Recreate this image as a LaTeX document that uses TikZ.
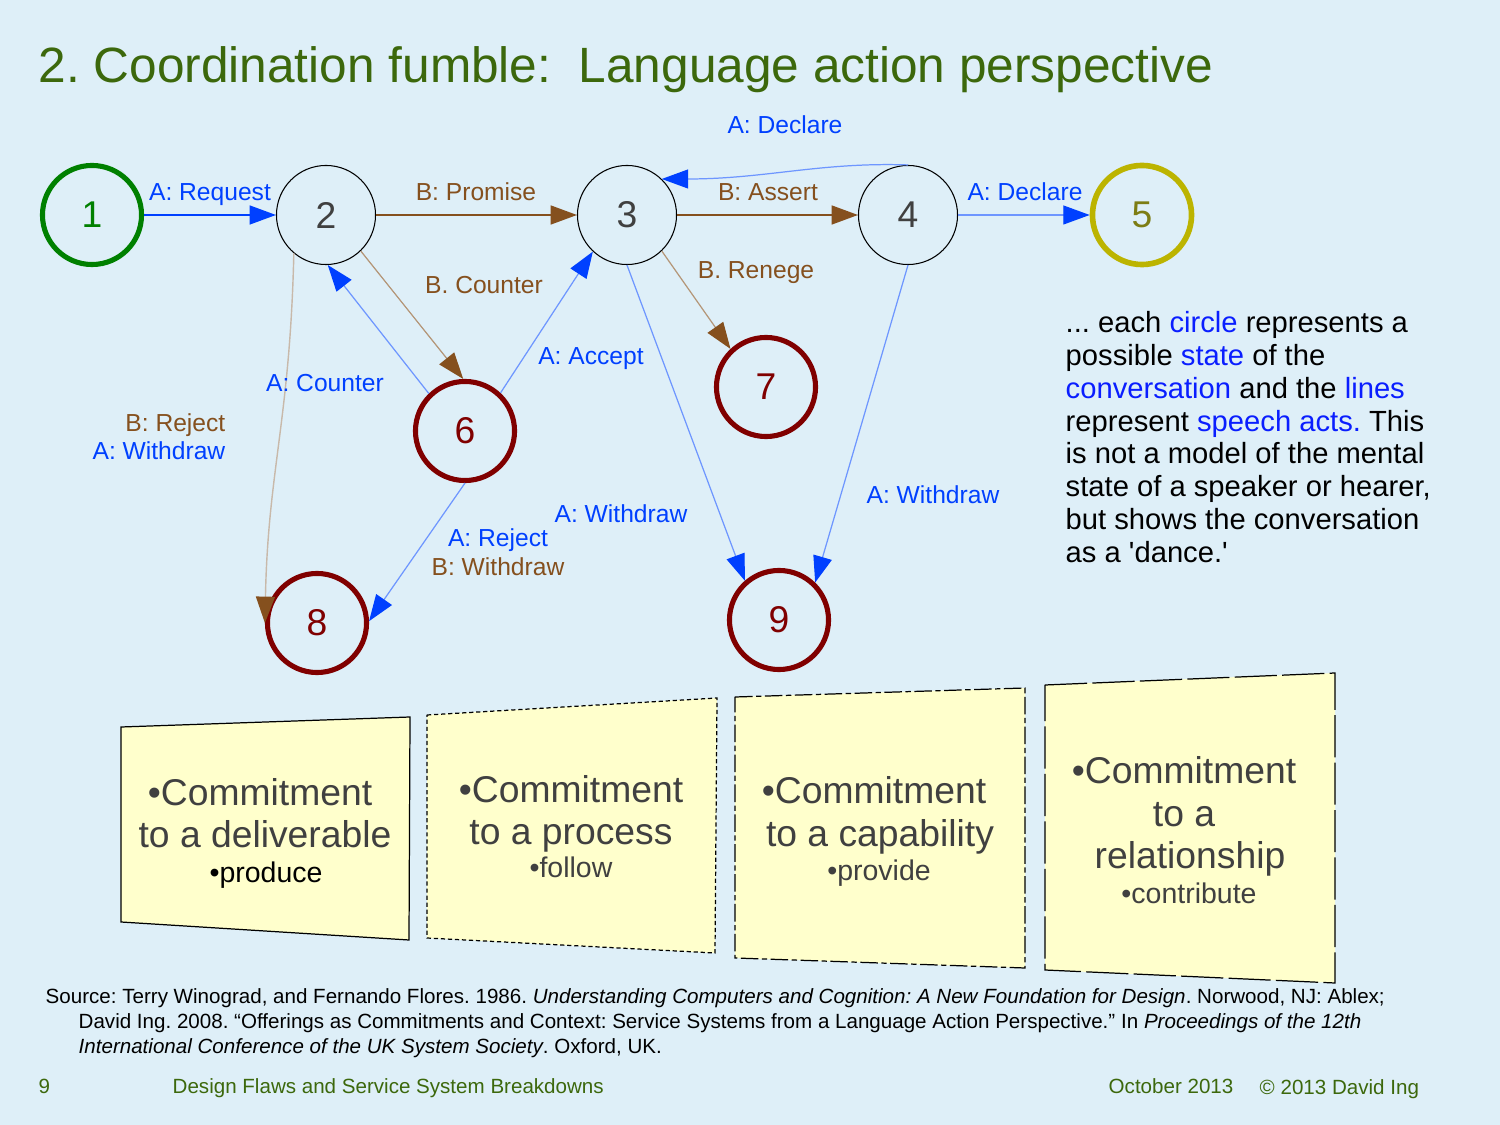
\documentclass[tikz,border=0pt]{standalone}
\usepackage{fontspec}
\setmainfont{Liberation Sans}
\newfontfamily\sq{Liberation Sans}[Ligatures=TeXOff]
\usetikzlibrary{arrows.meta}
\definecolor{bluA}{RGB}{0,64,255}
\definecolor{bluL}{RGB}{110,150,255}
\definecolor{brn}{RGB}{133,80,30}
\definecolor{brnL}{RGB}{180,150,120}
\definecolor{brnX}{RGB}{200,185,170}
\definecolor{ttl}{RGB}{60,104,12}
\definecolor{grn}{RGB}{0,128,0}
\definecolor{olv}{RGB}{188,180,0}
\definecolor{olvT}{RGB}{125,125,20}
\definecolor{drd}{RGB}{128,0,0}
\definecolor{gry}{RGB}{64,64,64}
\definecolor{notey}{RGB}{255,255,204}
\definecolor{bgA}{RGB}{222,239,248}
\definecolor{bgB}{RGB}{242,249,253}
\definecolor{para}{RGB}{10,30,255}
\newcommand{\bw}[1]{\textcolor{para}{#1}}
\frenchspacing
\begin{document}
\begin{tikzpicture}[x=0.01cm,y=-0.01cm,
  stnode/.style={circle,minimum size=0.99cm,inner sep=0pt,font=\fontsize{10.6}{12}\selectfont},
  thinst/.style={stnode,draw=black,line width=0.3pt,text=gry},
  greenst/.style={stnode,draw=grn,line width=1.45pt,text=grn},
  olivest/.style={stnode,draw=olv,line width=1.6pt,text=olvT},
  redst/.style={stnode,draw=drd,line width=1.45pt,text=drd},
  lbl/.style={anchor=base,inner sep=0pt,font=\fontsize{7}{8}\selectfont},
  lblb/.style={lbl,text=bluA},
  lblr/.style={lbl,text=brn},
  tipT/.tip={Triangle[length=7.5pt,width=5.4pt]},
  ab/.style={draw=bluA,line width=0.45pt,-{tipT[color=bluA]}},
  abl/.style={draw=bluL,line width=0.35pt,-{tipT[color=bluA]}},
  ar/.style={draw=brn,line width=0.5pt,-{tipT[color=brn]}},
  arl/.style={draw=brnL,line width=0.35pt,-{tipT[color=brn]}},
  arx/.style={draw=brnX,line width=0.4pt,-{tipT[color=brn]}},
  notebox/.style={fill=notey,draw=black,line width=0.35pt},
  big/.style={anchor=base,inner sep=0pt,text=gry,font=\fontsize{10.6}{12}\selectfont},
  small/.style={anchor=base,inner sep=0pt,text=gry,font=\fontsize{8.1}{9}\selectfont},
  ptxt/.style={anchor=base west,inner sep=0pt,font=\fontsize{8.3}{9.3}\selectfont},
  ftxt/.style={anchor=base west,inner sep=0pt,font=\fontsize{5.85}{7}\selectfont},
  gtxt/.style={ftxt,text=ttl}
]
\useasboundingbox (0,0) rectangle (1500,1125);
\shade[top color=bgA,middle color=bgB,bottom color=bgA] (0,0) rectangle (1500,1125);

% title
\node[anchor=base west,inner sep=0pt,text=ttl,font=\fontsize{14.1}{16}\selectfont] (title) at (38,83) {2. Coordination fumble:\ \ Language action perspective};

% states
\node[greenst] (n1) at (92,215) {1};
\node[thinst] (n2) at (326,215) {2};
\node[thinst] (n3) at (627,215) {3};
\node[thinst] (n4) at (908,215) {4};
\node[olivest] (n5) at (1142,215) {5};
\node[redst] (n6) at (465,431) {6};
\node[redst] (n7) at (766,387) {7};
\node[redst] (n8) at (317,623) {8};
\node[redst] (n9) at (779,620) {9};

% connectors
\draw[ab] (n1) -- (n2);
\draw[ar] (n2) -- (n3);
\draw[ar] (n3) -- (n4);
\draw[abl] (n4) -- (n5);
\draw[abl] (n4.north) .. controls (820,162) and (765,179) .. (n3.46);
\draw[arl] (n2.-46) -- (n6.92);
\draw[abl] (n6.134) -- (n2.-88);
\draw[abl] (n6.47) -- (n3.227);
\draw[arl] (n3.-46) -- (n7.133);
\draw[abl] (n3.-90) -- (n9.131);
\draw[abl] (n4.-90) -- (n9.46);
\draw[abl] (n6.-90) -- (n8.2);
\draw[arx] (n2.230) .. controls (290,420) and (268,470) .. (n8.180);

% connector labels
\node[lblb] (lReq) at (210,201) {A: Request};
\node[lblr] (lPro) at (476,201) {B: Promise};
\node[lblr] (lAss) at (768,201) {B: Assert};
\node[lblb] (lDec1) at (1025,201) {A: Declare};
\node[lblb] (lDec2) at (785,134) {A: Declare};
\node[lblr] (lBCo) at (484,294) {B. Counter};
\node[lblb] (lACo) at (325,392) {A: Counter};
\node[lblb] (lAcc) at (591,365) {A: Accept};
\node[lblr] (lRen) at (756,279) {B. Renege};
\node[lblr,anchor=base east] (lBRj) at (226,432) {B: Reject};
\node[lblb,anchor=base east] (lAWd1) at (226,460) {A: Withdraw};
\node[lblb] (lAWd2) at (621,523) {A: Withdraw};
\node[lblb] (lAWd3) at (933,504) {A: Withdraw};
\node[lblb] (lARj) at (498,547) {A: Reject};
\node[lblr] (lBWd) at (498,576) {B: Withdraw};

% explanatory paragraph
\node[ptxt] (p1) at (1065,333) {... each \bw{circle} represents a};
\node[ptxt] (p2) at (1065,366) {possible \bw{state} of the};
\node[ptxt] (p3) at (1065,399) {\bw{conversation} and the \bw{lines}};
\node[ptxt] (p4) at (1065,432) {represent \bw{speech acts.} This};
\node[ptxt] (p5) at (1065,464) {is not a model of the mental};
\node[ptxt] (p6) at (1065,497) {state of a speaker or hearer,};
\node[ptxt] (p7) at (1065,530) {but shows the conversation};
\node[ptxt] (p8) at (1065,563) {as a {\sq'}dance.{\sq'}};

% sticky notes
\draw[notebox] (121,727) -- (410,717) -- (409,940) -- (121,922) -- cycle;
\draw[notebox,dash pattern=on 1.2pt off 0.8pt] (427,715) -- (717,698) -- (715,953) -- (427,938) -- cycle;
\draw[notebox,dash pattern=on 5pt off 1pt on 1.5pt off 1pt] (735,697) -- (1025,688) -- (1025,968) -- (735,958) -- cycle;
\draw[notebox,dash pattern=on 12pt off 1.5pt] (1045,685) -- (1335,673) -- (1335,983) -- (1045,970) -- cycle;

\node[big] (c1a) at (260,805) {•Commitment};
\node[big] (c1b) at (265,847) {to a deliverable};
\node[small,text=black] (c1c) at (266,882) {•produce};

\node[big] (c2a) at (571,802) {•Commitment};
\node[big] (c2b) at (571,844) {to a process};
\node[small] (c2c) at (571,877) {•follow};

\node[big] (c3a) at (874,804) {•Commitment};
\node[big] (c3b) at (880,846) {to a capability};
\node[small] (c3c) at (879,880) {•provide};

\node[big] (c4a) at (1184,784) {•Commitment};
\node[big] (c4b) at (1184,826) {to a};
\node[big] (c4c) at (1190,868) {relationship};
\node[small] (c4d) at (1189,903) {•contribute};

% source
\node[ftxt] (s1) at (45,1003) {Source: Terry Winograd, and Fernando Flores. 1986. \textit{Understanding Computers and Cognition: A New Foundation for Design}. Norwood, NJ: Ablex;};
\node[ftxt] (s2) at (78,1028) {David Ing. 2008. “Offerings as Commitments and Context: Service Systems from a Language Action Perspective.” In \textit{Proceedings of the 12th}};
\node[ftxt] (s3) at (78,1053) {\textit{International Conference of the UK System Society}. Oxford, UK.};

% footer
\node[gtxt] (f1) at (38,1093) {9};
\node[gtxt] (f2) at (172,1093) {Design Flaws and Service System Breakdowns};
\node[gtxt] (f3) at (1108,1093) {October 2013};
\node[gtxt] (f4) at (1259,1094) {© 2013 David Ing};
\end{tikzpicture}
\end{document}
